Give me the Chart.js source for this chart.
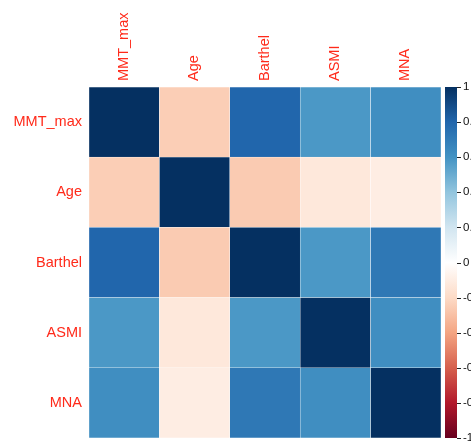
<!DOCTYPE html>
<html>
<head>
<meta charset="utf-8">
<script src="https://cdn.jsdelivr.net/npm/chart.js@4/dist/chart.umd.min.js"></script>
<style>
  html, body { margin: 0; padding: 0; background: #fff; }
  #wrap { width: 471px; height: 441px; overflow: hidden; }
  canvas { display: block; }
</style>
</head>
<body>
<div id="wrap"><canvas id="c" width="520" height="441"></canvas></div>
<script>
// Variables of the correlation matrix
const vars = ['MMT_max', 'Age', 'Barthel', 'ASMI', 'MNA'];

// Correlation coefficients, one row per variable
const mmtMax  = [ 1.00, -0.25,  0.80,  0.58,  0.62];
const age     = [-0.25,  1.00, -0.26, -0.13, -0.10];
const barthel = [ 0.80, -0.26,  1.00,  0.58,  0.72];
const asmi    = [ 0.58, -0.13,  0.58,  1.00,  0.62];
const mna     = [ 0.62, -0.10,  0.72,  0.62,  1.00];
const rows = [mmtMax, age, barthel, asmi, mna];

// Colour legend ticks
const legendTicks = [1, 0.8, 0.6, 0.4, 0.2, 0, -0.2, -0.4, -0.6, -0.8, -1];

// Diverging red-blue palette from -1 to 1
const palette = ['#67001F', '#B2182B', '#D6604D', '#F4A582', '#FDDBC7', '#FFFFFF',
                 '#D1E5F0', '#92C5DE', '#4393C3', '#2166AC', '#053061'];

function hexToRgb(h) {
  return [parseInt(h.slice(1, 3), 16), parseInt(h.slice(3, 5), 16), parseInt(h.slice(5, 7), 16)];
}
function colorFor(v) {
  const t = (Math.max(-1, Math.min(1, v)) + 1) / 2 * (palette.length - 1);
  const i = Math.min(Math.floor(t), palette.length - 2);
  const f = t - i;
  const a = hexToRgb(palette[i]), b = hexToRgb(palette[i + 1]);
  const c = a.map((x, k) => Math.round(x + (b[k] - x) * f));
  return `rgb(${c[0]},${c[1]},${c[2]})`;
}

Chart.defaults.font.family = '"Liberation Sans", Arial, sans-serif';

// Each row is a stacked layer of unit-height cells; the bottom row goes first
const datasets = rows.map((r, i) => ({
  label: vars[i],
  data: r.map(() => 1),
  backgroundColor: r.map(colorFor),
  borderColor: 'rgba(255,255,255,0.75)',
  borderWidth: 0.5,
  borderSkipped: false,
  barPercentage: 1,
  categoryPercentage: 1
})).reverse();

// Gradient colour bar with tick marks next to the legend axis
const colorBar = {
  id: 'colorBar',
  afterDraw(chart) {
    const s = chart.scales.cb;
    const ctx = chart.ctx;
    const x0 = chart.chartArea.right + 4;
    const w = 12;
    const top = s.getPixelForValue(1);
    const bottom = s.getPixelForValue(-1);
    const g = ctx.createLinearGradient(0, bottom, 0, top);
    palette.forEach((c, i) => g.addColorStop(i / (palette.length - 1), c));
    ctx.save();
    ctx.fillStyle = g;
    ctx.fillRect(x0, top, w, bottom - top);
    ctx.strokeStyle = '#222';
    ctx.lineWidth = 1;
    legendTicks.forEach(v => {
      const y = Math.round(s.getPixelForValue(v)) + 0.5;
      ctx.beginPath();
      ctx.moveTo(x0 + w, y);
      ctx.lineTo(x0 + w + 4, y);
      ctx.stroke();
    });
    ctx.restore();
  }
};

const chart = new Chart(document.getElementById('c'), {
  type: 'bar',
  data: { labels: vars, datasets },
  options: {
    responsive: false,
    animation: false,
    layout: { padding: { top: 12, left: 13, bottom: 3, right: 29 } },
    plugins: { legend: { display: false }, tooltip: { enabled: false } },
    scales: {
      x: {
        position: 'top',
        stacked: true,
        grid: { display: false, drawTicks: false },
        border: { display: false },
        afterFit: s => { s.height = 75; s.paddingLeft = 0; s.paddingRight = 0; },
        ticks: {
          color: '#FF2A1A',
          font: { size: 14.5 },
          minRotation: 90,
          maxRotation: 90,
          labelOffset: 17,
          padding: 6
        }
      },
      y: {
        stacked: true,
        min: 0,
        max: 5,
        grid: { display: false, drawTicks: false },
        border: { display: false },
        afterBuildTicks: s => { s.ticks = [0.5, 1.5, 2.5, 3.5, 4.5].map(v => ({ value: v })); },
        afterFit: s => { s.width = 76; s.paddingTop = 0; s.paddingBottom = 0; },
        ticks: {
          color: '#FF2A1A',
          font: { size: 14.5 },
          padding: 7,
          callback: v => vars[4 - Math.floor(v)]
        }
      },
      cb: {
        type: 'linear',
        position: 'right',
        min: -1,
        max: 1,
        grid: { display: false, drawTicks: false },
        border: { display: false },
        afterBuildTicks: s => { s.ticks = legendTicks.map(v => ({ value: v })); },
        afterFit: s => { s.width = 50; s.paddingTop = 0; s.paddingBottom = 0; },
        ticks: {
          color: '#111',
          font: { size: 11.5 },
          padding: 22,
          callback: v => String(Math.round(v * 10) / 10)
        }
      }
    }
  },
  plugins: [colorBar]
});
</script>
</body>
</html>
